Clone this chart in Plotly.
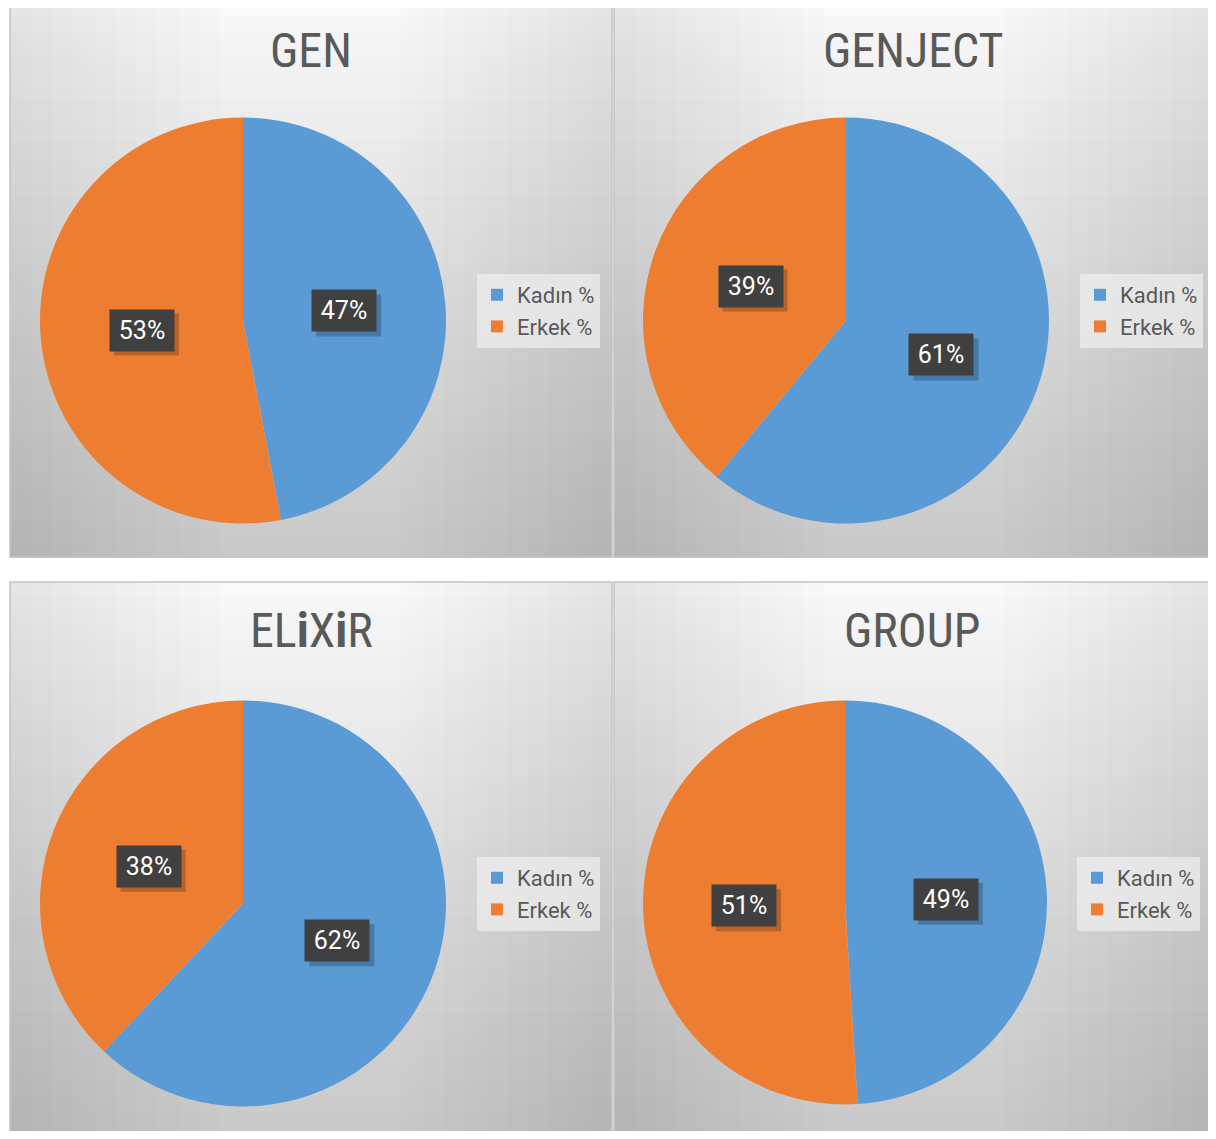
import math
import plotly.graph_objects as go

OFF = 8  # browser body margin
W, H = 1216 - OFF, 1139 - 2 * OFF

# ---- data ----
titles = ["GEN", "GENJECT", "EL<b>i</b>X<b>i</b>R", "GROUP"]
labels = ["Kadın %", "Erkek %"]
kadin = [47, 61, 62, 49]
erkek = [53, 39, 38, 51]
colors = ["#5B9BD5", "#ED7D31"]

# ---- layout geometry (page pixels) ----
panels = [(10, 2, 612, 557), (614, 2, 1214, 557), (10, 582, 612, 1138), (614, 582, 1214, 1138)]
pie_boxes = [(40, 117, 446, 524), (643, 117, 1049, 524), (40, 700, 446, 1107), (643, 700, 1047, 1105)]
legend_pos = [(477, 274), (1080, 274), (477, 857), (1077, 857)]
title_pos = [(311, 50), (913, 50), (311, 630), (912, 630)]

def px(x):
    return (x - OFF) / W

def py(y):
    return 1 - (y - OFF) / H

fig = go.Figure()
shapes = []
annotations = []

# panel backgrounds (gradient approximation)
for (x0, y0, x1, y1) in panels:
    n = 40
    for i in range(n):
        t = i / (n - 1)
        c = int(249 - 48 * t ** 0.9)
        ya = y0 + (y1 - y0) * i / n
        yb = y0 + (y1 - y0) * (i + 1) / n + 1
        shapes.append(dict(type="rect", xref="paper", yref="paper", layer="below",
                           x0=px(x0), x1=px(x1), y0=py(yb), y1=py(ya),
                           fillcolor=f"rgb({c},{c},{c})", line=dict(width=0)))
    m = 10
    wpx = (x1 - x0) * 0.35
    for j in range(m):
        a = 0.006
        w = wpx * (j + 1) / m
        shapes.append(dict(type="rect", xref="paper", yref="paper", layer="below",
                           x0=px(x0), x1=px(x0 + w), y0=py(y1), y1=py(y0),
                           fillcolor=f"rgba(0,0,0,{a})", line=dict(width=0)))
        shapes.append(dict(type="rect", xref="paper", yref="paper", layer="below",
                           x0=px(x1 - w), x1=px(x1), y0=py(y1), y1=py(y0),
                           fillcolor=f"rgba(0,0,0,{a})", line=dict(width=0)))
    shapes.append(dict(type="rect", xref="paper", yref="paper", layer="below",
                       x0=px(x0), x1=px(x1), y0=py(y1), y1=py(y0),
                       fillcolor="rgba(0,0,0,0)", line=dict(color="#c4c4c4", width=1.5)))

BW, BH = 64, 41  # label box size (px)
for k in range(4):
    bx0, by0, bx1, by1 = pie_boxes[k]
    lname = "legend" if k == 0 else f"legend{k+1}"
    vals = [kadin[k], erkek[k]]
    # invisible suffix keeps each pie's legend entries separate
    trace_labels = [lab + "\u200b" * k for lab in labels]
    fig.add_trace(go.Pie(
        labels=trace_labels, values=vals, sort=False, direction="clockwise", rotation=0,
        marker=dict(colors=colors, line=dict(width=0)),
        textinfo="none", hoverinfo="label+percent",
        domain=dict(x=[px(bx0), px(bx1)], y=[py(by1), py(by0)]),
        legend=lname, showlegend=True,
    ))
    lx, ly = legend_pos[k]
    fig.update_layout({lname: dict(
        x=px(lx), y=py(ly), xanchor="left", yanchor="top",
        bgcolor="rgba(240,240,240,0.7)", borderwidth=0,
        font=dict(family="Roboto", size=22, color="#595959"),
        itemwidth=30, tracegroupgap=0,
    )})
    # title
    tx, ty = title_pos[k]
    annotations.append(dict(text=titles[k], x=px(tx), y=py(ty), xref="paper", yref="paper",
                            showarrow=False, xanchor="center", yanchor="middle",
                            font=dict(family="Liberation Sans Narrow, Roboto Condensed, Roboto",
                                      size=48, color="#595959")))
    # data labels from slice mid-angles
    cx = (bx0 + bx1) / 2
    cy = (by0 + by1) / 2
    r = (bx1 - bx0) / 2
    total = sum(vals)
    cum = 0
    for v in vals:
        mid = (cum + v / 2) / total * 2 * math.pi
        cum += v
        lxp = cx + 0.5 * r * math.sin(mid)
        lyp = cy - 0.5 * r * math.cos(mid)
        pct = f"{round(100 * v / total)}%"
        shapes.append(dict(type="rect", xref="paper", yref="paper", layer="above",
                           x0=px(lxp - BW / 2 + 4), x1=px(lxp + BW / 2 + 5),
                           y0=py(lyp + BH / 2 + 5), y1=py(lyp - BH / 2 + 4),
                           fillcolor="rgba(0,0,0,0.22)", line=dict(width=0)))
        annotations.append(dict(text=pct, x=px(lxp), y=py(lyp), xref="paper", yref="paper",
                                xanchor="center", yanchor="middle",
                                showarrow=False, width=BW, height=BH, borderpad=0,
                                font=dict(family="Roboto", size=25, color="white"),
                                bgcolor="#404040"))

fig.update_layout(width=W, height=H, margin=dict(l=0, r=0, t=0, b=0),
                  paper_bgcolor="white", plot_bgcolor="white",
                  shapes=shapes, annotations=annotations)

fig.write_html("out.html")
